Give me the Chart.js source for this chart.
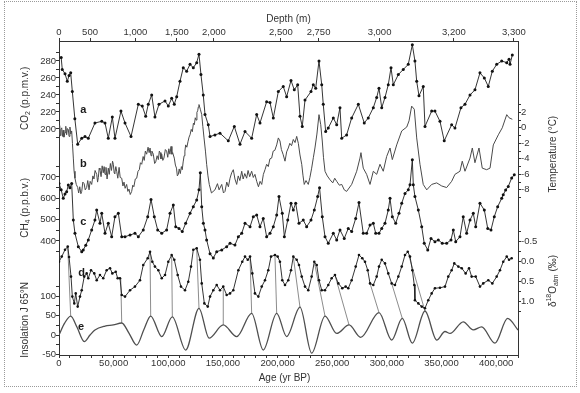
<!DOCTYPE html>
<html lang="en">
<head>
<meta charset="UTF-8" />
<title>Vostok ice core records</title>
<script src="https://cdn.jsdelivr.net/npm/chart.js"></script>
<style>
  body { margin: 0; background: #fff; }
  .wrap { position: relative; width: 580px; height: 393px; }
  .frame { position: absolute; left: 4px; top: 1px; width: 573px; height: 386px; border: 1px dotted #9a9a9a; box-sizing: border-box; }
  canvas { position: absolute; left: 0; top: 0; }
</style>
</head>
<body>
<div class="wrap">
  <div class="frame"></div>
  <canvas id="vostok" width="580" height="393"></canvas>
</div>
<script>
  // ages are in kyr BP
  const co2Age = [2,3,5.5,7.6,9.2,10.7,12.2,14.5,17.1,20.8,23.8,26.8,32.9,39.1,42.1,45.1,48.8,51.2,56.7,60.4,65.9,72.6,76.2,79.3,81.7,84.8,87.8,91.5,97,100,103.1,105.5,107.7,110.7,113.7,116.8,119.9,122.9,126,128.1,129.9,132,133.6,136.6,138.2,142.7,147.3,154.9,160.4,165.6,170.2,176.3,180.9,183.9,190,193.1,196.1,200.7,205.2,208.3,212.3,215.3,218.4,220.5,222.6,225.1,230.6,232.7,234.9,237.9,240.4,241.8,244,246.4,251,254.1,257.1,258.7,263.2,267.8,273.9,279.3,283,287.6,290.7,292.8,295.3,298.3,301.3,303.8,305.9,310.5,315,319.6,323.3,325.7,327.3,329.4,333.3,334.9,341,344,348.6,352.5,359.3,362.3,367.8,371.5,376.1,380.6,385.2,389.2,392.8,396.5,400.5,405.1,409.7,411.8,412.7,414.8];
  const co2Ppm = [284,270,265,256,263,266,244,212,182,189,191,189,207,209,207,189,214,189,221,207,191,229,227,215,229,240,214,229,233,227,236,229,238,256,272,268,276,272,278,288,264,240,217,205,191,193,195,186,203,182,197,189,217,207,232,231,213,244,250,238,257,246,252,215,203,234,244,252,248,280,252,229,197,201,213,205,225,189,193,213,229,207,213,225,237,248,225,237,252,272,252,264,270,276,299,280,256,239,250,203,221,221,209,186,205,201,225,229,240,246,266,260,250,268,276,280,278,282,276,287];

  const tempAge = [
    0,0.6,1.2,1.8,2.5,3.2,3.8,4.5,5.5,6.2,
    7,7.7,8.5,9.2,10,10.8,11.6,12.3,13.1,13.8,
    14.6,15.8,17.1,18,19,20,20.8,21.8,23,24,
    25.3,26.3,27.5,28.5,29.9,31,32,33,34.5,35.3,
    36,36.8,37.5,38.5,39.5,40.5,41.3,42.1,43,44,
    45.1,46,47,48,49,49.7,50.5,51,52,52.8,
    53.8,55,56,57.4,58.5,59.5,60.5,61.9,63,64,
    65.2,66.5,67.5,68.5,69.8,71.1,72.3,73.5,74.5,75.7,
    77,78,79,80.2,81.5,82.5,83.3,84.2,85,86.3,
    87.5,88.5,89.8,90.9,91.8,92.5,93.3,94,95,96,
    97.3,98.5,99.5,100.5,101.5,102.5,103.3,104,105.5,106.5,
    107.5,108.3,109.2,110,111,112,112.8,113.6,114.5,115.2,
    115.9,117,118,119,119.9,121,122,123,123.8,124.7,
    125.5,126.2,126.9,127.5,128.1,129.3,130.6,131.6,132.7,134,
    135.1,136.3,137.5,139.5,142.7,145,146.5,148.9,150.5,151.9,
    153.5,155,156.5,158,159.5,161,162.6,164,165.5,167.2,
    168.5,170,171.7,173,174.5,176.3,177.8,179.3,180.9,182.5,
    184,185.5,187,188.5,190,191.5,193,194.6,196,197.5,
    199.2,200.7,202.2,203.5,205,206.8,208.3,209.8,211.2,212.8,
    214.4,216,217.5,219,220.5,222.1,223.3,224.4,226,228.1,
    229.6,231.2,232.8,234.2,236,237.9,239.5,240.9,242,243.4,
    245.5,248,250.5,252.3,254.1,256.5,258.7,261,263.2,267.8,
    272.4,275.4,276.3,278.4,281.5,284.6,287.6,290.7,293.7,296.7,
    299.8,302.9,305,309,313.6,318.2,320.3,322.7,325.1,327.3,
    330.3,333.3,336.5,341,345.6,350.2,354.7,359.3,362.3,366.9,
    369,371.5,376.1,378.2,380.6,384.3,387.3,391.3,394.4,397.4,
    402,405.6,409.7,411.8,414.8
  ];
  const tempC = [
    -0.9,0.3,-1.0,-0.2,0,-1.1,-0.3,-1.2,-0.6,0.2,
    -0.9,-0.1,-0.2,-1.1,0.1,-0.8,-0.4,-2.0,-3.9,-5.6,
    -6.5,-7.3,-7.7,-8.4,-7.6,-8.5,-8.2,-7.0,-7.2,-8.0,
    -7.7,-6.8,-8.0,-6.9,-7.3,-6.2,-6.6,-5.5,-6.0,-7.0,
    -6.4,-5.2,-5.4,-6.3,-4.9,-5.8,-5.0,-6.0,-5.1,-6.6,
    -5.2,-6.0,-4.6,-5.5,-4.3,-4.7,-5.8,-5.9,-5.0,-5.6,
    -6.5,-5.1,-6.4,-6.5,-7.5,-7.0,-7.8,-7.3,-8.2,-7.9,
    -8.6,-8.2,-7.4,-7.6,-6.6,-6.5,-5.6,-5.4,-4.5,-4.7,
    -3.7,-4.2,-3.0,-3.4,-2.5,-3.2,-2.6,-3.6,-3.0,-3.4,
    -4.6,-4.4,-3.6,-4.1,-3.0,-3.2,-4.0,-3.4,-4.2,-3.9,
    -2.8,-3.0,-3.8,-2.7,-3.4,-2.4,-3.4,-3.2,-3.9,-4.8,
    -5.2,-6.2,-6.0,-5.3,-5.9,-5.0,-5.4,-4.4,-3.6,-3.0,
    -2.2,-2.5,-1.8,-1.2,-0.9,-0.2,-0.5,0.6,0.4,1.3,
    1.0,2.0,2.2,2.7,3.0,2.4,1.7,0.2,-1.3,-3.0,
    -4.7,-6.2,-7.3,-8.4,-8.0,-7.2,-8.0,-7.3,-8.4,-8.2,
    -7.0,-7.6,-6.5,-5.8,-5.4,-6.6,-7.3,-6.2,-6.8,-5.6,
    -6.6,-5.9,-6.5,-5.5,-6.3,-5.6,-6.4,-6.0,-6.9,-7.6,
    -6.9,-7.3,-6.0,-5.4,-4.7,-5.0,-4.0,-3.9,-3.0,-2.9,
    -2.2,-1.3,-1.7,-2.8,-3.4,-4.3,-3.1,-2.6,-2.0,-2.3,
    -1.5,-1.9,-1.1,-2.0,-3.5,-4.7,-6.2,-7.3,-6.8,-7.3,
    -6.4,-5.2,-3.8,-2.6,-0.8,1.7,0.4,-1.7,-3.8,-5.6,
    -6.2,-6.7,-7.1,-6.5,-6.9,-7.4,-7.3,-8.0,-8.2,-7.3,
    -5.6,-3.9,-3.2,-5.2,-6.0,-7.3,-5.6,-6.0,-4.7,-5.6,
    -3.7,-2.6,-4.1,-2.2,-0.4,0.1,0.9,2.8,2.4,-1.3,
    -4.7,-7.3,-8.0,-7.3,-7.1,-7.5,-7.7,-6.9,-6.0,-5.6,
    -4.3,-5.6,-3.9,-2.6,-4.5,-2.6,-5.2,-5.4,-5.2,-2.2,
    -0.9,0,1.7,1.3,1.1
  ];

  const ch4Age = [0,2,3.9,5.5,7,8.5,10,11.6,13.1,14.6,17.7,20.8,22.2,24.5,26.8,29.9,32.9,34.5,37.5,39.1,42.1,45.1,48.2,51.2,54.3,57.4,60.4,65,69.5,72.6,77.1,81.2,84.2,87.2,90.3,94,98.5,101.6,104.6,106.8,109.8,112.8,115.9,119.9,122.9,126,128.1,129.3,130.6,132.1,133.6,135.1,138.2,141.2,144.3,148.9,153.4,156.5,161,164.1,167.2,170.2,174.8,177.8,180.9,183.9,186.9,190,193.1,196.1,199.2,201.3,204.3,206.2,209.3,212.3,214.4,216.6,219.6,223.5,226.6,230.6,233.6,236.7,238.4,240.9,243.4,246.4,251,254.1,257.1,261,264.7,267.8,271.5,274.5,278.4,281.5,284.6,287.6,289.8,292.8,295.3,298.3,301.3,302.9,305,308.1,311.1,313.6,316.6,319.6,321.2,323.3,324.2,325.7,328.8,331.9,334.2,337.4,340.4,344,347.1,350.7,354.7,358.7,360.8,363,366.9,369.9,373,376.1,379.1,381.3,385.2,389.2,392.3,395.3,398.3,401.4,405.1,406.5,408.7,411.1,414.2,416.6];
  const ch4Ppb = [670,640,600,620,631,662,650,670,498,436,373,350,358,380,405,452,498,545,483,530,436,483,420,514,530,420,420,428,436,420,452,514,595,514,452,436,452,530,569,467,459,444,483,530,561,592,640,720,561,483,452,405,340,320,350,358,373,389,381,420,436,483,467,514,522,467,506,420,436,467,522,608,530,420,498,577,545,577,483,498,467,498,545,608,650,514,420,389,436,405,452,412,459,444,506,580,436,436,475,483,436,436,459,483,545,600,514,483,530,577,623,640,664,781,664,608,545,467,389,358,412,397,405,389,389,405,452,397,420,514,436,498,530,467,577,545,459,452,514,561,600,617,639,656,695,711];

  const o18Age = [0,2.5,5.5,8,9.2,11,12.2,14,15.3,17.1,19.2,20.8,23.1,25.3,26.8,29.3,32.3,34.5,37.5,40.5,43.6,46.7,48.8,51.9,53.7,55.8,57.4,60.4,65,69.5,74.1,77.1,81.2,83.3,85.4,87.8,90.9,94,97,100,103.1,105.5,108.6,111.6,115.3,118.3,120.8,122.9,126,129,130.6,133,136.1,138.2,141.2,144.3,147.3,150.3,153.4,156.5,159.5,164.1,167.7,170.2,172.7,174.8,176.9,179.3,182.4,185.5,188.5,191.5,194,197.6,200.1,202.2,204.3,206.8,209.8,212.3,214.4,217.5,219.6,222.1,225.1,228.1,231.2,233.6,235.8,237.9,240.4,243.4,246.4,249.5,252.5,255.6,259.2,262.3,264.7,267.8,271.5,274.5,277.5,280,282.5,284.6,287.6,290.7,292.8,295.3,298.3,301.3,304.4,307.4,310.5,313.6,316.6,319.1,321.2,323.3,325.1,325.7,328.8,331.9,334.9,337.9,341,344,348.6,353.2,356.2,359.3,361.7,365.4,368.5,372.1,375.2,377.6,381.3,385.2,388.2,392.8,396.5,400.5,403.5,406.5,409.7,411.8,414.2];
  const o18Permil = [0.02,-0.11,-0.28,-0.36,-0.10,0.39,0.89,1.06,0.81,1.14,0.89,0.73,0.39,0.31,0.43,0.23,0.31,0.48,0.35,0.43,0.23,0.18,0.31,0.27,0.43,0.43,0.85,0.89,0.73,0.64,0.48,0.10,-0.07,-0.23,0.02,0.14,0.23,0.43,0.35,0.02,-0.15,-0.03,0.35,0.64,0.73,0.52,0.14,-0.28,-0.32,-0.03,0.56,1.06,1.14,0.89,0.73,0.60,0.73,0.64,0.85,0.81,0.73,0.23,0.02,-0.11,-0.03,-0.11,0.31,0.81,0.89,0.64,0.48,0.23,-0.11,-0.15,-0.11,0.02,0.48,0.60,0.48,0.23,-0.11,-0.03,0.10,0.39,0.64,0.73,0.39,0.02,0.10,0.48,0.73,0.73,0.60,0.43,0.35,0.56,0.68,0.64,0.68,0.48,0.14,-0.15,-0.07,0.02,0.23,0.56,0.60,0.39,0.14,-0.03,0.06,0.31,0.56,0.60,0.39,0.14,-0.15,-0.23,-0.11,0.23,0.60,0.98,1.06,1.14,1.18,0.98,0.81,0.68,0.67,0.64,0.39,0.23,0.06,0.14,0.18,0.31,0.18,0.39,0.39,0.64,0.56,0.48,0.56,0.39,0.23,0.02,-0.11,-0.03,-0.07];

  const insAge = [0,5,10.7,16.5,23.1,28.4,32.9,42.1,49.7,57.4,64,71.1,77.8,83.9,94,103.7,115.9,128.1,137.3,150.3,162.6,176.3,186.9,199.2,208.3,220.5,231.2,243.4,254.1,265.4,276,292.8,304.4,314.1,323.3,334.9,345.6,353.2,357.8,369.9,379.1,386.7,398.9,410.5,420];
  const insW = [0,30,49,20,-17,0,13,23,26,31,5,-26,15,49,-4,47,-39,69,-8,26,-4,56,-39,56,-4,72,-47,49,4,26,-6,58,-13,43,-21,62,-13,9,4,34,13,21,-21,43,13];

  // tie lines between δ18O features and insolation peaks
  const linkO18Age = [8,56.5,83.3,103.1,126,150.3,174.8,197.6,214.4,233.6,252.5,284.6,304.4,320];
  const linkO18Val = [-0.36,0.43,-0.23,-0.15,-0.32,0.64,-0.11,-0.15,-0.11,0.02,0.35,0.56,0.56,-0.15];
  const linkInsAge = [10.7,57.4,83.9,103.7,128.1,150.3,176.3,199.2,220.5,243.4,265.4,292.8,314.1,334.9];
  const linkInsVal = [49,31,49,47,69,26,56,56,72,49,26,58,43,62];

  // curve letters
  const tagText = ['a','b','c','d','e'];
  const tagAxis = ['yL','yR','yCH4','yO','yIns'];
  const tagAge = [22.2,22.2,22.2,20.8,20.1];
  const tagValue = [222.7,-4.7,490,0.31,21];

  // axis ticks
  const depthLabels = ['0','500','1,000','1,500','2,000','2,500','2,750','3,000','3,200','3,300'];
  const depthAge = [0,28.4,69.9,107.9,141.8,203.1,237.5,293.3,361.4,416.3];
  const ageLabels = [0,50000,100000,150000,200000,250000,300000,350000,400000];
  const co2Ticks = [190,200,210,220,230,240,250,260,270,280,290];
  const co2Labels = [200,220,240,260,280];
  const ch4Ticks = [350,400,450,500,550,600,650,700,750];
  const ch4Labels = [400,500,600,700];
  const insTicks = [-50,-25,0,25,50,75,100,125];
  const insLabels = [-50,0,50,100];
  const tempTicks = [-9,-8,-7,-6,-5,-4,-3,-2,-1,0,1,2,3];
  const tempLabels = [-8,-6,-4,-2,0,2];
  const o18Ticks = [-0.75,-0.5,-0.25,0,0.25,0.5,0.75,1,1.25];
  const o18Labels = [-0.5,0,0.5,1];

  // axis ranges chosen so each record sits in its own band of the plot
  const R = { co2: [-66, 303.5], ch4: [-134.4, 1337.5], ins: [-51.7, 760], temp: [-29.3, 11.2], o18: [-5.5, 2.35] };
  const FONT = '"Liberation Sans", Arial, Helvetica, sans-serif';
  const INK = '#333';

  function carry(v, from, to, flip) {
    const f = flip ? (from[1] - v) / (from[1] - from[0]) : (v - from[0]) / (from[1] - from[0]);
    return to[0] + f * (to[1] - to[0]);
  }
  function tickSet(vals, labels, fmt, from, to, flip) {
    return vals.map(v => ({
      value: from ? carry(v, from, to, flip) : v,
      lbl: labels.some(l => Math.abs(l - v) < 1e-9) ? fmt(v) : ''
    }));
  }
  const pts = (ages, vals) => ages.map((a, i) => ({ x: a * 1000, y: vals[i] }));

  function visibleAxis(extra) {
    return Object.assign({
      grid: { drawOnChartArea: false, tickLength: 3, color: INK, lineWidth: 1 },
      border: { display: true, color: INK, width: 1 },
      ticks: {
        autoSkip: false, maxRotation: 0, color: INK, padding: 0,
        font: { family: FONT, size: 9.5 },
        callback: (v, i, ticks) => ticks[i].lbl
      }
    }, extra);
  }

  const dotted = (data, axis, r) => ({
    data, yAxisID: axis, borderColor: '#1e1e1e', borderWidth: 0.9,
    pointRadius: r, pointBorderWidth: 0, pointBackgroundColor: '#111', tension: 0
  });

  const decor = {
    id: 'decor',
    beforeDatasetsDraw(chart) {
      const { ctx, scales } = chart;
      ctx.save();
      ctx.strokeStyle = '#6f6f6f';
      ctx.lineWidth = 0.8;
      linkO18Age.forEach((a, i) => {
        ctx.beginPath();
        ctx.moveTo(scales.x.getPixelForValue(a * 1000), scales.yO.getPixelForValue(linkO18Val[i]));
        ctx.lineTo(scales.x.getPixelForValue(linkInsAge[i] * 1000), scales.yIns.getPixelForValue(linkInsVal[i]));
        ctx.stroke();
      });
      ctx.restore();
    },
    afterDraw(chart) {
      const { ctx, chartArea, scales } = chart;
      ctx.save();
      ctx.fillStyle = '#1a1a1a';
      ctx.font = 'bold 11px ' + FONT;
      ctx.textAlign = 'center';
      ctx.textBaseline = 'middle';
      tagText.forEach((t, i) => {
        ctx.fillText(t, scales.x.getPixelForValue(tagAge[i] * 1000), scales[tagAxis[i]].getPixelForValue(tagValue[i]));
      });
      ctx.restore();

      const up = -Math.PI / 2;
      const lx = chartArea.left - 34, rx = chartArea.right + 35;
      rich(ctx, [{ t: 'CO' }, { t: '2', k: 'sub' }, { t: ' (p.p.m.v.)' }], lx, scales.yL.getPixelForValue(236), up);
      rich(ctx, [{ t: 'CH' }, { t: '4', k: 'sub' }, { t: ' (p.p.b.v.)' }], lx, scales.yCH4.getPixelForValue(555), up);
      rich(ctx, [{ t: 'Insolation J 65°N' }], lx, scales.yIns.getPixelForValue(39), up);
      rich(ctx, [{ t: 'Temperature (°C)' }], rx, scales.yR.getPixelForValue(-3.4), up);
      rich(ctx, [{ t: 'δ' }, { t: '18', k: 'sup' }, { t: 'O' }, { t: 'atm', k: 'sub' }, { t: ' (‰)' }], rx, scales.yO.getPixelForValue(0.5), up);
      const cx = (chartArea.left + chartArea.right) / 2;
      rich(ctx, [{ t: 'Depth (m)' }], cx, chartArea.top - 22, 0);
      rich(ctx, [{ t: 'Age (yr BP)' }], cx - 4, chartArea.bottom + 23, 0);
    }
  };

  function rich(ctx, parts, x, y, rot) {
    const fontOf = p => (p.k ? 7 : 10) + 'px ' + FONT;
    ctx.save();
    ctx.translate(x, y);
    ctx.rotate(rot);
    ctx.fillStyle = INK;
    ctx.textAlign = 'left';
    ctx.textBaseline = 'middle';
    let w = 0;
    parts.forEach(p => { ctx.font = fontOf(p); w += ctx.measureText(p.t).width; });
    let px = -w / 2;
    parts.forEach(p => {
      ctx.font = fontOf(p);
      const dy = p.k === 'sub' ? 3 : p.k === 'sup' ? -4 : 0;
      ctx.fillText(p.t, px, dy);
      px += ctx.measureText(p.t).width;
    });
    ctx.restore();
  }

  new Chart(document.getElementById('vostok'), {
    type: 'line',
    data: {
      datasets: [
        dotted(pts(co2Age, co2Ppm), 'yL', 1.5),
        { data: pts(tempAge, tempC), yAxisID: 'yR', borderColor: '#4a4a4a', borderWidth: 1, pointRadius: 0, tension: 0 },
        dotted(pts(ch4Age, ch4Ppb), 'yCH4', 1.5),
        dotted(pts(o18Age, o18Permil), 'yO', 1.3),
        { data: pts(insAge, insW), yAxisID: 'yIns', borderColor: '#4f4f4f', borderWidth: 1.3, pointRadius: 0, cubicInterpolationMode: 'monotone' }
      ]
    },
    options: {
      responsive: false,
      animation: false,
      events: [],
      layout: { autoPadding: false, padding: { left: 19, right: 32, top: 26, bottom: 18 } },
      plugins: { legend: { display: false }, tooltip: { enabled: false } },
      scales: {
        x: visibleAxis({
          type: 'linear', position: 'bottom', min: 0, max: 420000,
          afterBuildTicks: s => {
            const t = [];
            for (let a = 0; a <= 420000; a += 10000) t.push(a);
            s.ticks = tickSet(t, ageLabels, v => v.toLocaleString('en-US'));
          },
          afterFit: s => { s.height = 20; }
        }),
        xTop: visibleAxis({
          type: 'linear', position: 'top', min: 0, max: 420000,
          afterBuildTicks: s => { s.ticks = depthAge.map((a, i) => ({ value: a * 1000, lbl: depthLabels[i] })); },
          afterFit: s => { s.height = 15; }
        }),
        yL: visibleAxis({
          position: 'left', min: R.co2[0], max: R.co2[1],
          afterBuildTicks: s => {
            s.ticks = [].concat(
              tickSet(co2Ticks, co2Labels, v => String(v)),
              tickSet(ch4Ticks, ch4Labels, v => String(v), R.ch4, R.co2),
              tickSet(insTicks, insLabels, v => String(v), R.ins, R.co2)
            ).sort((p, q) => p.value - q.value);
          },
          afterFit: s => { s.width = 40; }
        }),
        yCH4: { display: false, position: 'left', min: R.ch4[0], max: R.ch4[1] },
        yIns: { display: false, position: 'left', min: R.ins[0], max: R.ins[1] },
        yR: visibleAxis({
          position: 'right', min: R.temp[0], max: R.temp[1],
          afterBuildTicks: s => {
            s.ticks = [].concat(
              tickSet(tempTicks, tempLabels, v => String(v)),
              tickSet(o18Ticks, o18Labels, v => v.toFixed(1), R.o18, R.temp, true)
            ).sort((p, q) => p.value - q.value);
          },
          afterFit: s => { s.width = 30; }
        }),
        yO: { display: false, position: 'right', reverse: true, min: R.o18[0], max: R.o18[1] }
      }
    },
    plugins: [decor]
  });
</script>
</body>
</html>
